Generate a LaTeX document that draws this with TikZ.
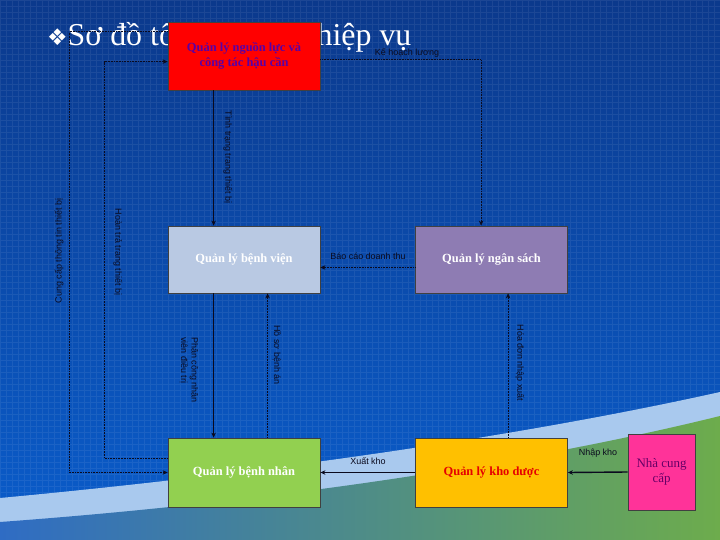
\documentclass[tikz,border=0pt]{standalone}
\usepackage{fontspec}
\setmainfont{Liberation Serif}
\setsansfont{Liberation Sans}
\newfontfamily\symfont{DejaVu Sans}
\usetikzlibrary{arrows.meta,positioning}
\definecolor{bgtop}{HTML}{0B398C}
\definecolor{bgbot}{HTML}{0A5DCC}
\definecolor{bandc}{HTML}{A9C9EE}
\definecolor{lowl}{HTML}{2F6CC4}
\definecolor{lowr}{HTML}{6DAC4C}
\definecolor{redbox}{HTML}{FF0000}
\definecolor{hospbox}{HTML}{B9C9E3}
\definecolor{budgetbox}{HTML}{8E7CB3}
\definecolor{patbox}{HTML}{92D050}
\definecolor{pharmbox}{HTML}{FFC000}
\definecolor{supbox}{HTML}{FF3399}
\definecolor{inkc}{HTML}{0A0A1E}
\begin{document}
\begin{tikzpicture}[x=1bp, y=-1bp, >={Stealth[length=5bp,width=4.5bp]},
    box/.style={draw=black!75, line width=0.8bp, minimum width=152bp, minimum height=67bp,
      inner sep=0pt, align=center, font=\bfseries\fontsize{12.5}{14.5}\selectfont},
    lbl/.style={font=\sffamily\fontsize{9}{10.5}\selectfont, text=inkc, inner sep=1pt},
    flow/.style={->, draw=inkc, line width=0.6bp},
    heavy/.style={->, draw=inkc, line width=1.4bp}]
    \useasboundingbox (0,0) rectangle (720,540);

    % background
    \shade[top color=bgtop, bottom color=bgbot] (0,0) rectangle (720,540);
    \draw[white, opacity=0.07, line width=0.3bp, step=6bp] (0,540) grid (720,0);
    \fill[bandc] (0,498) .. controls (300,470) and (550,430) .. (720,392) -- (720,540) -- (0,540) -- cycle;
    \shade[left color=lowl, right color=lowr] (0,522) .. controls (300,500) and (550,458) .. (720,416) -- (720,540) -- (0,540) -- cycle;

    \node[anchor=base west, text=white, inner sep=0pt, font=\fontsize{32}{34}\selectfont] (title) at (47,46)
      {{\symfont\fontsize{23}{24}\selectfont ❖}Sơ đồ tổng quan nghiệp vụ};

    % boxes
    \node[box, fill=redbox, text=violet!70!blue, minimum height=68bp] (res) at (244,56) {Quản lý nguồn lực và\\công tác hậu cần};
    \node[box, fill=hospbox, text=white] (hosp) at (244,259.5) {Quản lý bệnh viện};
    \node[box, fill=budgetbox, text=white] (budget) at (491.5,259.5) {Quản lý ngân sách};
    \node[box, fill=patbox, text=white, minimum height=69bp] (pat) at (244,472.5) {Quản lý bệnh nhân};
    \node[box, fill=pharmbox, text=red!90!black, minimum height=69bp] (pharm) at (491.5,472.5) {Quản lý kho dược};
    \node[box, fill=supbox, text=violet!80!black, minimum width=67bp, minimum height=76bp,
      font=\fontsize{13}{15}\selectfont] (sup) at (661.5,472) {Nhà cung\\cấp};

    % connectors
    \draw[flow, densely dotted] ([yshift=-10bp]res.north west) -- ++(-98,0) |- (pat.west);
    \draw[flow, densely dotted] ([yshift=14bp]pat.west) -- ++(-63,0) |- ([yshift=-40bp]res.north west);
    \draw[flow] ([xshift=46bp]res.south west) -- ([xshift=46bp]hosp.north west);
    \draw[flow, densely dotted] ([yshift=-38bp]res.north east) -| ([xshift=66bp]budget.north west);
    \draw[flow, densely dotted] ([yshift=-8bp]budget.west) -- ([yshift=-8bp]hosp.east);
    \draw[flow] ([xshift=46bp]hosp.south west) -- ([xshift=46bp]pat.north west);
    \draw[flow, densely dotted] ([xshift=100bp]pat.north west) -- ([xshift=100bp]hosp.south west);
    \draw[flow, densely dotted] ([xshift=93bp]pharm.north west) -- ([xshift=93bp]budget.south west);
    \draw[heavy] (pharm.west) -- (pat.east);
    \draw[heavy] (sup.west) -- (pharm.east);

    % labels
    \node[lbl, rotate=90] (l1) at (59,251) {Cung cấp thông tin thiết bị};
    \node[lbl, rotate=-90] (l2) at (118,252) {Hoàn trả trang thiết bị};
    \node[lbl, rotate=-90] (l3) at (228,157) {Tình trạng trang thiết bị};
    \node[lbl] (l4) at (407,53) {Kế hoạch lương};
    \node[lbl] (l5) at (368,256) {Báo cáo doanh thu};
    \node[lbl, rotate=-90, align=left] (l6) at (189,370) {Phân công nhân\\viên điều trị};
    \node[lbl, rotate=-90] (l7) at (277,355) {Hồ sơ bệnh án};
    \node[lbl, rotate=-90] (l8) at (520,363) {Hóa đơn nhập xuất};
    \node[lbl] (l9) at (368,461) {Xuất kho};
    \node[lbl] (l10) at (598,453) {Nhập kho};
  \end{tikzpicture}
\end{document}
